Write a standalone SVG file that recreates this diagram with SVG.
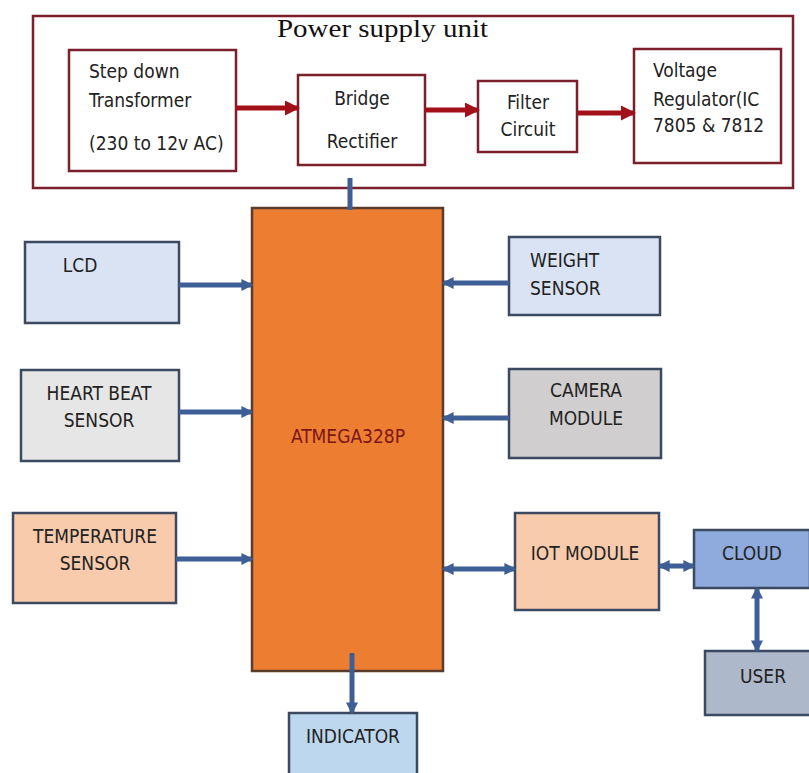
<svg xmlns="http://www.w3.org/2000/svg" width="809" height="773" viewBox="0 0 809 773">
<defs>
<style>
.ps{fill:#fff;stroke:#7a1f2b;stroke-width:2.5}
.nd{stroke:#3b4a60;stroke-width:2.5}
.t{font-family:"Liberation Sans Narrow","DejaVu Sans Condensed","Liberation Sans",sans-serif;font-size:19px;fill:#222}
.tc{text-anchor:middle}
.red{stroke:#a4101a;stroke-width:5;fill:none}
.blu{stroke:#3e5f95;stroke-width:5;fill:none}
</style>
<marker id="ar" viewBox="0 0 10 10" refX="8" refY="5" markerWidth="3" markerHeight="3" orient="auto-start-reverse" markerUnits="strokeWidth"><path d="M0,0 L10,5 L0,10 z" fill="#a4101a"/></marker>
<marker id="ab" viewBox="0 0 10 10" refX="8" refY="5" markerWidth="2.4" markerHeight="2.4" orient="auto-start-reverse" markerUnits="strokeWidth"><path d="M0,0 L10,5 L0,10 z" fill="#3e5f95"/></marker>
</defs>
<rect width="809" height="773" fill="#fff"/>

<g id="power-supply">
<rect class="ps" x="33" y="16" width="760" height="172"/>
<text x="277" y="37" font-family="Liberation Serif,serif" font-size="25" fill="#111" textLength="211" lengthAdjust="spacingAndGlyphs">Power supply unit</text>
</g>
<g id="transformer">
<rect class="ps" x="69" y="50" width="167" height="121"/>
<text class="t" x="89" y="78">Step down</text>
<text class="t" x="89" y="107">Transformer</text>
<text class="t" x="89" y="150">(230 to 12v AC)</text>
</g>
<g id="rectifier">
<rect class="ps" x="298" y="75" width="127" height="90"/>
<text class="t tc" x="362" y="105">Bridge</text>
<text class="t tc" x="362" y="148">Rectifier</text>
</g>
<g id="filter">
<rect class="ps" x="478" y="81" width="99" height="71"/>
<text class="t tc" x="528" y="109">Filter</text>
<text class="t tc" x="528" y="136">Circuit</text>
</g>
<g id="regulator">
<rect class="ps" x="634" y="49" width="147" height="114"/>
<text class="t" x="653" y="77">Voltage</text>
<text class="t" x="653" y="106">Regulator(IC</text>
<text class="t" x="653" y="132">7805 &amp; 7812</text>
</g>

<g id="atmega">
<rect x="252" y="208" width="191" height="463" fill="#ed7d31" stroke="#5b3b2b" stroke-width="2.5"/>
<text class="t tc" x="348" y="443" style="fill:#7b1616">ATMEGA328P</text>
</g>
<g id="lcd">
<rect class="nd" x="25" y="242" width="154" height="81" fill="#dae3f3"/>
<text class="t tc" x="80" y="272">LCD</text>
</g>
<g id="heartbeat">
<rect class="nd" x="21" y="370" width="158" height="91" fill="#e7e6e6"/>
<text class="t tc" x="99" y="400">HEART BEAT</text>
<text class="t tc" x="99" y="427">SENSOR</text>
</g>
<g id="temperature">
<rect class="nd" x="13" y="513" width="163" height="90" fill="#f8cbad"/>
<text class="t tc" x="95" y="543">TEMPERATURE</text>
<text class="t tc" x="95" y="570">SENSOR</text>
</g>
<g id="weight">
<rect class="nd" x="509" y="237" width="151" height="78" fill="#dae3f3"/>
<text class="t" x="530" y="267">WEIGHT</text>
<text class="t" x="530" y="295">SENSOR</text>
</g>
<g id="camera">
<rect class="nd" x="509" y="369" width="152" height="89" fill="#d0cece"/>
<text class="t tc" x="586" y="397">CAMERA</text>
<text class="t tc" x="586" y="425">MODULE</text>
</g>
<g id="iot">
<rect class="nd" x="515" y="513" width="144" height="97" fill="#f8cbad"/>
<text class="t tc" x="585" y="560">IOT MODULE</text>
</g>
<g id="cloud">
<rect class="nd" x="694" y="530" width="116" height="58" fill="#8faadc"/>
<text class="t tc" x="752" y="560">CLOUD</text>
</g>
<g id="user">
<rect class="nd" x="705" y="651" width="106" height="64" fill="#adb9ca"/>
<text class="t tc" x="763" y="683">USER</text>
</g>
<g id="indicator">
<rect class="nd" x="289" y="713" width="128" height="65" fill="#bdd7ee"/>
<text class="t tc" x="353" y="743">INDICATOR</text>
</g>

<g id="connectors">
<line class="red" x1="236" y1="108" x2="297" y2="108" marker-end="url(#ar)"/>
<line class="red" x1="425" y1="110" x2="477" y2="110" marker-end="url(#ar)"/>
<line class="red" x1="577" y1="113" x2="633" y2="113" marker-end="url(#ar)"/>
<line class="blu" x1="350" y1="178" x2="350" y2="210"/>
<line class="blu" x1="179" y1="285" x2="251" y2="285" marker-end="url(#ab)"/>
<line class="blu" x1="179" y1="412" x2="251" y2="412" marker-end="url(#ab)"/>
<line class="blu" x1="176" y1="559" x2="251" y2="559" marker-end="url(#ab)"/>
<line class="blu" x1="509" y1="283" x2="444" y2="283" marker-end="url(#ab)"/>
<line class="blu" x1="509" y1="418" x2="444" y2="418" marker-end="url(#ab)"/>
<line class="blu" x1="444" y1="569" x2="514" y2="569" marker-start="url(#ab)" marker-end="url(#ab)"/>
<line class="blu" x1="660" y1="566" x2="693" y2="566" marker-start="url(#ab)" marker-end="url(#ab)"/>
<line class="blu" x1="757" y1="589" x2="757" y2="650" marker-start="url(#ab)" marker-end="url(#ab)"/>
<line class="blu" x1="352" y1="653" x2="352" y2="712" marker-end="url(#ab)"/>
</g>
</svg>
